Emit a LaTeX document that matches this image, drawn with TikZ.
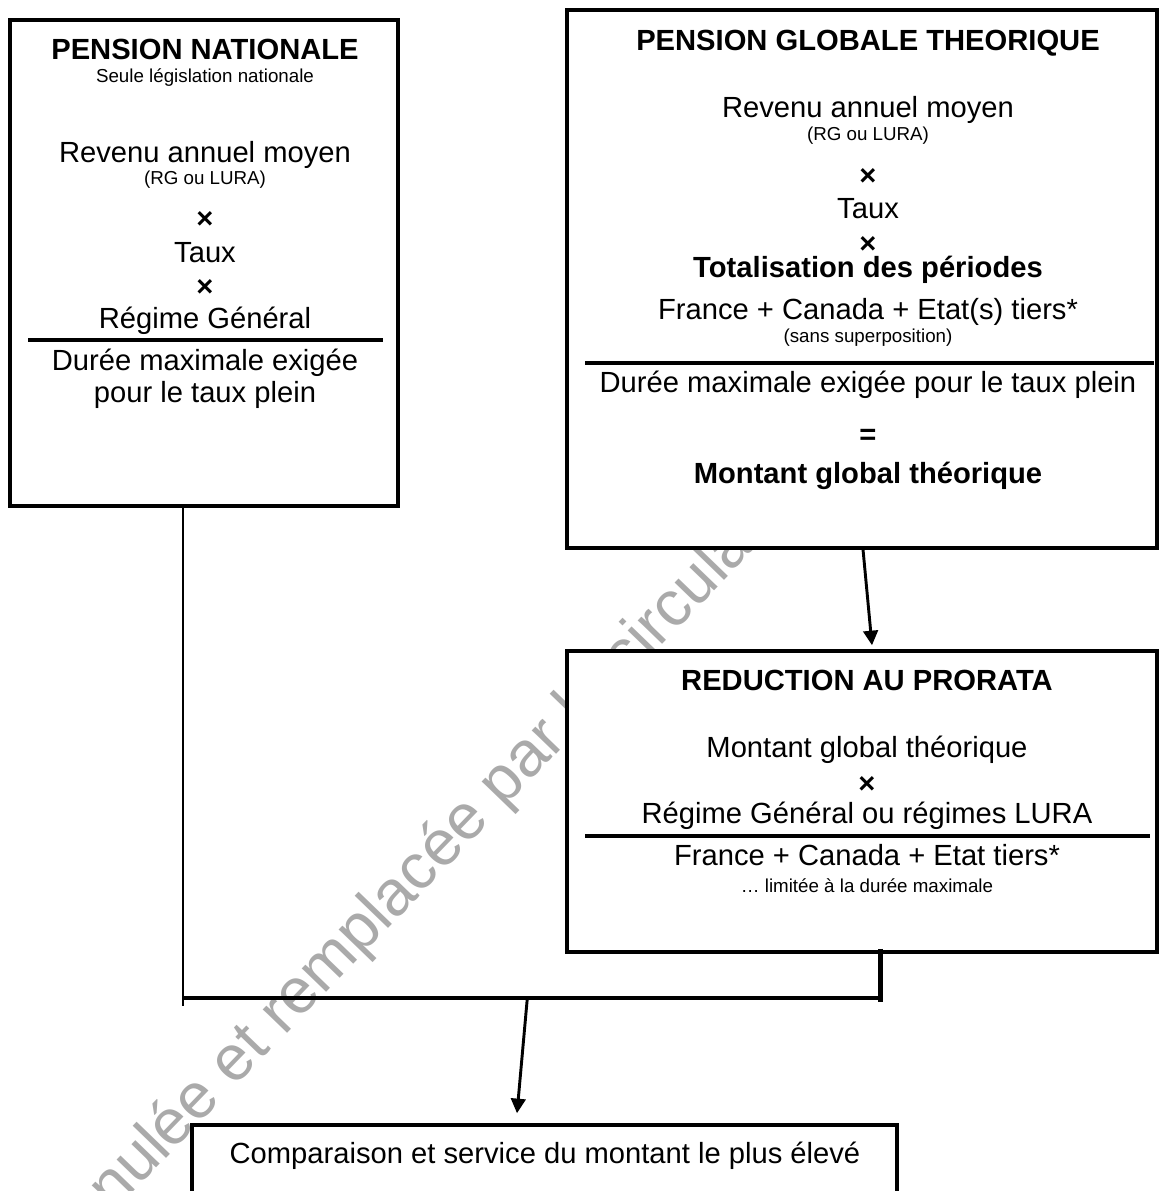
\documentclass[tikz,border=0pt]{standalone}
\usepackage{fontspec}
\setmainfont{Liberation Sans}
\usetikzlibrary{arrows.meta,fit,calc}

\definecolor{wmgray}{RGB}{170,170,170}

\tikzset{
  box/.style={draw, line width=1.7pt, fill=white, inner sep=0pt},
  txt/.style={anchor=base, inner sep=0pt, font=\fontsize{14}{16}\selectfont},
  bigtxt/.style={txt, font=\fontsize{14}{16}\selectfont\bfseries},
  smalltxt/.style={txt, font=\fontsize{9}{11}\selectfont},
  optxt/.style={anchor=center, inner sep=0pt, font=\fontsize{14}{16}\selectfont\bfseries},
  rule/.style={line width=1.5pt},
  link/.style={line width=1.4pt, -{Triangle[length=7pt,width=7pt]}},
  stem/.style={line width=1.3pt},
  bar/.style={line width=2.1pt},
  tick/.style={line width=2.4pt},
  wmark/.style={anchor=base west, rotate=46, text=wmgray, inner sep=0pt,
    font=\fontsize{30.7}{32}\selectfont}
}

\begin{document}
\begin{tikzpicture}[x=0.48pt,y=-0.48pt]
    \useasboundingbox (0,0) rectangle (1159,1191);
    \clip (0,0) rectangle (1159,1191);
    \fill[white] (0,0) rectangle (1159,1191);

    % filigrane
    \node[wmark] (filigrane) at (64,1264) {annulée et remplacée par la circulaire};

    % cadres
    \node[box, fit={(10,20) (398,506)}] (nat) {};
    \node[box, fit={(567,10) (1157,548)}] (glob) {};
    \node[box, fit={(567,651) (1157,952)}] (red) {};
    \node[box, fit={(192,1125) (897,1240)}] (comp) {};

    % pension nationale
    \node[bigtxt] (nat-titre) at (205,59) {PENSION NATIONALE};
    \node[smalltxt] (nat-seule) at (205,82) {Seule législation nationale};
    \node[txt] (nat-revenu) at (205,162) {Revenu annuel moyen};
    \node[smalltxt] (nat-rg) at (205,184) {(RG ou LURA)};
    \node[optxt] (nat-fois1) at (205,220) {×};
    \node[txt] (nat-taux) at (205,262) {Taux};
    \node[optxt] (nat-fois2) at (205,288) {×};
    \node[txt] (nat-regime) at (205,328) {Régime Général};
    \draw[rule] (28,340) -- (383,340);
    \node[txt] (nat-duree) at (205,370) {Durée maximale exigée};
    \node[txt] (nat-plein) at (205,402) {pour le taux plein};

    % pension globale theorique
    \node[bigtxt] (glob-titre) at (868,50) {PENSION GLOBALE THEORIQUE};
    \node[txt] (glob-revenu) at (868,117) {Revenu annuel moyen};
    \node[smalltxt] (glob-rg) at (868,140) {(RG ou LURA)};
    \node[optxt] (glob-fois1) at (868,177) {×};
    \node[txt] (glob-taux) at (868,218) {Taux};
    \node[optxt] (glob-fois2) at (868,245) {×};
    \node[bigtxt] (glob-total) at (868,277) {Totalisation des périodes};
    \node[txt] (glob-pays) at (868,319) {France + Canada + Etat(s) tiers*};
    \node[smalltxt] (glob-sans) at (868,342) {(sans superposition)};
    \draw[rule] (585,363) -- (1154,363);
    \node[txt] (glob-duree) at (868,392) {Durée maximale exigée pour le taux plein};
    \node[optxt] (glob-egal) at (868,437) {=};
    \node[bigtxt] (glob-montant) at (868,483) {Montant global théorique};

    % reduction au prorata
    \node[bigtxt] (red-titre) at (867,690) {REDUCTION AU PRORATA};
    \node[txt] (red-montant) at (867,757) {Montant global théorique};
    \node[optxt] (red-fois) at (867,785) {×};
    \node[txt] (red-regime) at (867,823) {Régime Général ou régimes LURA};
    \draw[rule] (585,836) -- (1150,836);
    \node[txt] (red-pays) at (867,865) {France + Canada + Etat tiers*};
    \node[smalltxt] (red-limite) at (867,892) {… limitée à la durée maximale};

    % comparaison
    \node[txt] (comp-texte) at (545,1163) {Comparaison et service du montant le plus élevé};

    % liaisons
    \coordinate (barL) at (183,998);
    \coordinate (barR) at (880,998);
    \draw[stem] (nat.south -| barL) -- ([yshift=-4pt]barL);
    \draw[bar] (barL) -- (barR);
    \draw[tick] (red.south -| barR) ++(0,-5) -- ([yshift=-2pt]barR);
    \draw[link] ([xshift=0.5pt]glob.south) -- ([xshift=4.8pt,yshift=1.9pt]red.north);
    \draw[link] ($(barL)!0.494!(barR)$) -- ([xshift=-13.2pt,yshift=4.8pt]comp.north);
\end{tikzpicture}
\end{document}
